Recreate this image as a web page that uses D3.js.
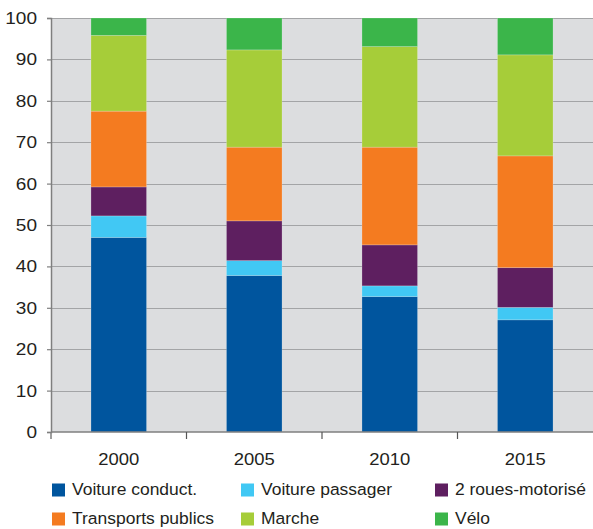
<!DOCTYPE html>
<html>
<head>
<meta charset="utf-8">
<script src="https://cdn.jsdelivr.net/npm/d3@7"></script>
<style>
  body { margin: 0; background: #fff; }
  svg { display: block; font-family: "Liberation Sans", Arial, sans-serif; }
</style>
</head>
<body>
<div id="chart"></div>
<script>
// data
const years = ["2000", "2005", "2010", "2015"];
const modes = ["Voiture conduct.", "Voiture passager", "2 roues-motorisé", "Transports publics", "Marche", "Vélo"];
const colors = ["#00559e", "#41c8f4", "#5e1f60", "#f47b20", "#a6cd39", "#3bb54a"];
const conduct = [47.0, 37.8, 32.7, 27.1];
const passager = [5.2, 3.6, 2.6, 3.0];
const roues = [7.0, 9.6, 9.9, 9.6];
const transports = [18.3, 17.8, 23.6, 27.0];
const marche = [18.3, 23.5, 24.3, 24.4];
const velo = [4.2, 7.7, 6.9, 8.9];
const yTicks = [0, 10, 20, 30, 40, 50, 60, 70, 80, 90, 100];

const series = [conduct, passager, roues, transports, marche, velo];
const rows = years.map((yr, i) => {
  const r = { year: yr };
  modes.forEach((m, j) => (r[m] = series[j][i]));
  return r;
});

const W = 593, H = 529;
const margin = { top: 18, right: 0, bottom: 97, left: 51 };
const width = W - margin.left - margin.right,
  height = H - margin.top - margin.bottom;
// the original text looks slightly stretched sideways
const stretch = 1.12;

const svg = d3.select("#chart").append("svg")
  .attr("width", W).attr("height", H);

const g = svg.append("g")
  .attr("transform", `translate(${margin.left},${margin.top})`);

const x = d3.scaleBand().domain(years).range([0, width])
  .paddingInner(0.59).paddingOuter(0.295);
const y = d3.scaleLinear().domain([0, 100]).range([height, 0]);

// plot background
g.append("rect")
  .attr("width", width).attr("height", height)
  .attr("fill", "#dcdddf");

// gridlines
g.selectAll(".grid").data(yTicks.filter(d => d > 0)).join("line")
  .attr("x1", 0).attr("x2", width)
  .attr("y1", d => Math.round(y(d)) + 0.5).attr("y2", d => Math.round(y(d)) + 0.5)
  .attr("stroke", "#a3a4a6").attr("stroke-width", 1.2);

// stacked bars
const stack = d3.stack().keys(modes)(rows);
g.selectAll(".layer").data(stack).join("g")
  .attr("fill", (d, i) => colors[i])
  .selectAll("rect").data(d => d).join("rect")
  .attr("x", d => x(d.data.year))
  .attr("width", x.bandwidth())
  .attr("y", d => y(d[1]))
  .attr("height", d => y(d[0]) - y(d[1]))
  .attr("stroke", "rgba(255,255,255,0.25)")
  .attr("stroke-width", 0.8);

// y axis
const yAxis = g.append("g")
  .call(d3.axisLeft(y).tickValues(yTicks).tickSize(4).tickPadding(9));
yAxis.selectAll("text")
  .attr("x", 0)
  .attr("transform", `translate(-14,0) scale(${stretch},1)`)
  .attr("font-size", 17).attr("fill", "#231f20")
  .attr("font-family", "Liberation Sans, Arial, sans-serif");
yAxis.select(".domain").attr("stroke", "#7f7f7f").attr("stroke-width", 1.5);
yAxis.selectAll(".tick line").attr("stroke", "#7f7f7f").attr("stroke-width", 1.2);

// x axis
const xAxis = g.append("g").attr("transform", `translate(0,${height})`);
xAxis.append("line")
  .attr("x1", 0).attr("x2", width).attr("y1", 0).attr("y2", 0)
  .attr("stroke", "#7f7f7f").attr("stroke-width", 1.5);
const step = x.step();
xAxis.selectAll(".xt").data(years.slice(0, -1)).join("line")
  .attr("x1", d => x(d) - x.paddingOuter() * step + step)
  .attr("x2", d => x(d) - x.paddingOuter() * step + step)
  .attr("y1", 0).attr("y2", 7)
  .attr("stroke", "#555").attr("stroke-width", 1.2);
xAxis.append("line").attr("x1", 0).attr("x2", 0).attr("y1", 0).attr("y2", 7)
  .attr("stroke", "#7f7f7f").attr("stroke-width", 1.5);
xAxis.selectAll(".xl").data(years).join("text")
  .attr("transform", d => `translate(${x(d) + x.bandwidth() / 2},33) scale(${stretch},1)`)
  .attr("text-anchor", "middle")
  .attr("font-size", 16.5).attr("fill", "#231f20")
  .text(d => d);

// legend
const legX = [52, 241, 435];
const legY = [490, 519];
const legend = svg.selectAll(".leg").data(modes).join("g")
  .attr("transform", (d, i) => `translate(${legX[i % 3]},${legY[Math.floor(i / 3)]})`);
legend.append("rect")
  .attr("x", 0).attr("y", -6.5).attr("width", 13).attr("height", 13)
  .attr("fill", (d, i) => colors[i]);
legend.append("text")
  .attr("transform", `translate(20,0) scale(${stretch},1)`)
  .attr("dy", "0.35em")
  .attr("font-size", 15.6).attr("fill", "#231f20")
  .text(d => d);
</script>
</body>
</html>
